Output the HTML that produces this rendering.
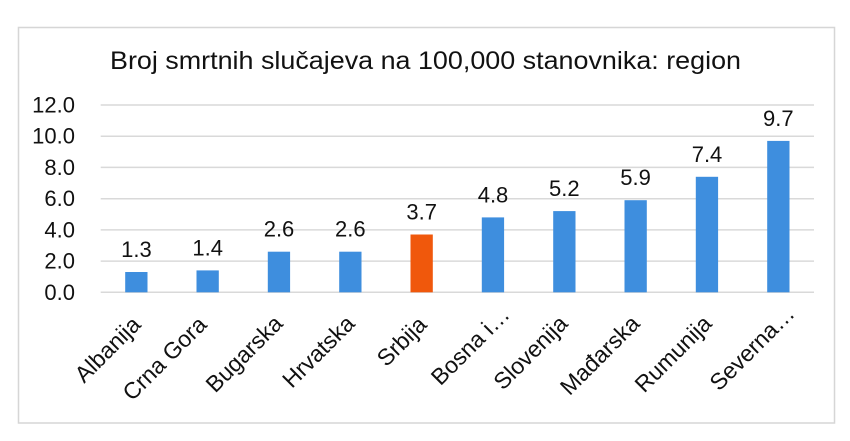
<!DOCTYPE html>
<html><head><meta charset="utf-8"><style>
html,body{margin:0;padding:0;background:#fff;}
svg{display:block;}
text{font-family:"Liberation Sans",Arial,sans-serif;fill:#111;}
</style></head><body>
<svg width="850" height="441" viewBox="0 0 850 441" xmlns="http://www.w3.org/2000/svg">
<rect x="0" y="0" width="850" height="441" fill="#fff"/>
<rect x="18.5" y="27.5" width="816" height="395.5" fill="#fff" stroke="#d6d6d6" stroke-width="1.5"/>
<text x="110" y="69" font-size="25" textLength="631" lengthAdjust="spacingAndGlyphs">Broj smrtnih slučajeva na 100,000 stanovnika: region</text>
<g stroke="#d9d9d9" stroke-width="1.5">
<line x1="100.7" y1="105" x2="814" y2="105"/>
<line x1="100.7" y1="136.2" x2="814" y2="136.2"/>
<line x1="100.7" y1="167.4" x2="814" y2="167.4"/>
<line x1="100.7" y1="198.7" x2="814" y2="198.7"/>
<line x1="100.7" y1="229.9" x2="814" y2="229.9"/>
<line x1="100.7" y1="261.1" x2="814" y2="261.1"/>
<line x1="100.7" y1="292.3" x2="814" y2="292.3"/>
</g>
<g font-size="22" text-anchor="end">
<text x="75" y="112.5">12.0</text>
<text x="75" y="143.7">10.0</text>
<text x="75" y="174.9">8.0</text>
<text x="75" y="206.2">6.0</text>
<text x="75" y="237.4">4.0</text>
<text x="75" y="268.6">2.0</text>
<text x="75" y="299.8">0.0</text>
</g>
<g fill="#3e8ede">
<rect x="125.2" y="272.0" width="22.3" height="20.3"/>
<rect x="196.5" y="270.4" width="22.3" height="21.9"/>
<rect x="267.8" y="251.7" width="22.3" height="40.6"/>
<rect x="339.2" y="251.7" width="22.3" height="40.6"/>
<rect x="481.8" y="217.4" width="22.3" height="74.9"/>
<rect x="553.2" y="211.1" width="22.3" height="81.2"/>
<rect x="624.5" y="200.2" width="22.3" height="92.1"/>
<rect x="695.8" y="176.8" width="22.3" height="115.5"/>
<rect x="767.2" y="140.9" width="22.3" height="151.4"/>
</g>
<rect x="410.5" y="234.5" width="22.3" height="57.8" fill="#f0580c"/>
<g font-size="22" text-anchor="middle">
<text x="136.4" y="257">1.3</text>
<text x="207.7" y="255.4">1.4</text>
<text x="279.0" y="236.7">2.6</text>
<text x="350.3" y="236.7">2.6</text>
<text x="421.7" y="219.5">3.7</text>
<text x="493.0" y="202.4">4.8</text>
<text x="564.3" y="196.1">5.2</text>
<text x="635.6" y="185.2">5.9</text>
<text x="707.0" y="161.8">7.4</text>
<text x="778.3" y="125.9">9.7</text>
</g>
<g font-size="23" text-anchor="end">
<text transform="translate(142,326) rotate(-45)">Albanija</text>
<text transform="translate(208,326) rotate(-45)">Crna Gora</text>
<text transform="translate(284,325) rotate(-45)">Bugarska</text>
<text transform="translate(356,325) rotate(-45)">Hrvatska</text>
<text transform="translate(428,326) rotate(-45)">Srbija</text>
<text transform="translate(511,316) rotate(-45)">Bosna i…</text>
<text transform="translate(569,325) rotate(-45)">Slovenija</text>
<text transform="translate(641,325) rotate(-45)">Mađarska</text>
<text transform="translate(713,325) rotate(-45)">Rumunija</text>
<text transform="translate(796,315) rotate(-45)">Severna…</text>
</g>
</svg>
</body></html>
